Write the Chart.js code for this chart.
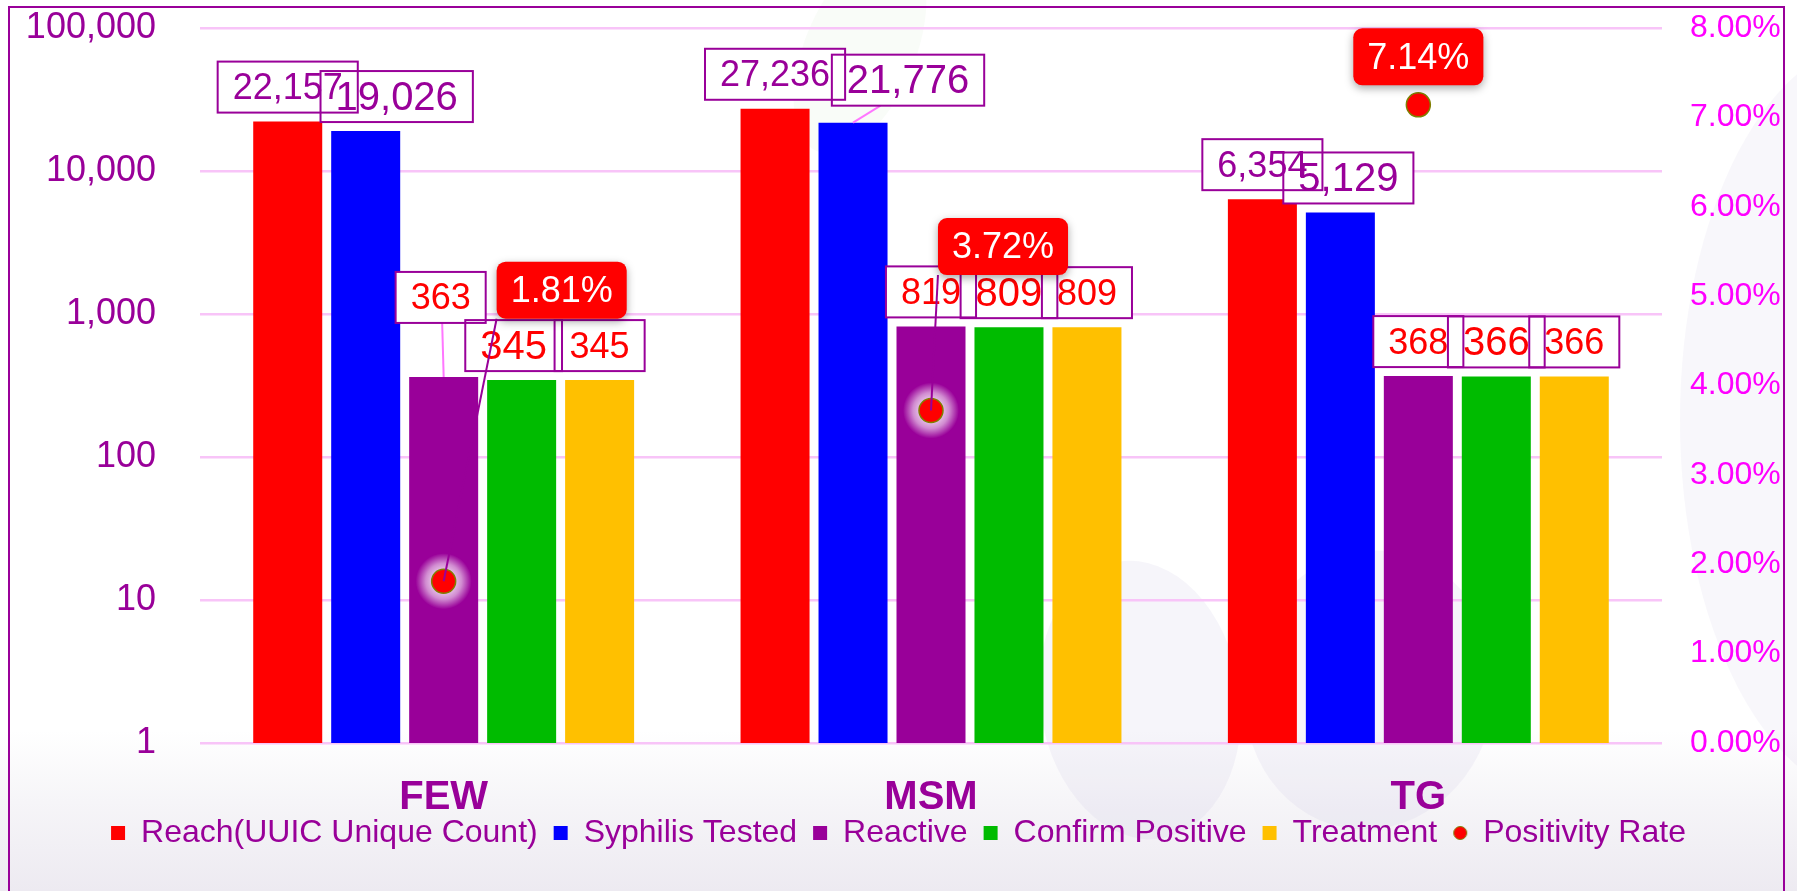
<!DOCTYPE html>
<html>
<head>
<meta charset="utf-8">
<script src="https://cdn.jsdelivr.net/npm/chart.js@4.4.1/dist/chart.umd.min.js"></script>
<style>
  html, body { margin: 0; padding: 0; background: #fff; }
</style>
</head>
<body>
<canvas id="myChart" width="1797" height="891"></canvas>
<script>
// chart values
var categories = ['FEW', 'MSM', 'TG'];
var reach = [22157, 27236, 6354];
var syphilisTested = [19026, 21776, 5129];
var reactive = [363, 819, 368];
var confirmPositive = [345, 809, 366];
var treatment = [345, 809, 366];
var positivityRate = [1.81, 3.72, 7.14];   // percent
var leftTicks = [1, 10, 100, 1000, 10000, 100000];
var rightTicks = [0, 1, 2, 3, 4, 5, 6, 7, 8];

var FONT = '"Liberation Sans", Arial, sans-serif';
var PURPLE = '#990099';

// hand-moved labels, like in the original sheet: [dx, extra lift, leader line]
var labelNudge = {
  '1-0': [31, 0], '1-1': [55, 8, true], '1-2': [8, 0],
  '2-0': [-3, 45, true], '3-0': [-8, 0]
};
var rateNudge = [[118, -291], [72, -164], [0, -48]];

Chart.defaults.font.family = FONT;

// small round marker for the legend entry of the rate series
var legendDot = document.createElement('canvas');
legendDot.width = 16; legendDot.height = 16;
(function() {
  var c = legendDot.getContext('2d');
  c.fillStyle = '#ff0000';
  c.strokeStyle = '#7f7f00';
  c.lineWidth = 1;
  c.beginPath();
  c.arc(8, 8, 6.5, 0, Math.PI * 2);
  c.fill();
  c.stroke();
})();

var backdrop = {
  id: 'backdrop',
  afterLayout: function(chart) {
    // pull the legend row up a little, closer to the category names
    chart.legend.top -= 22;
    chart.legend.bottom -= 22;
  },
  beforeDraw: function(chart) {
    var ctx = chart.ctx, w = chart.width, h = chart.height;
    ctx.save();
    var g = ctx.createLinearGradient(0, 0, 0, h);
    g.addColorStop(0, '#ffffff');
    g.addColorStop(0.82, '#ffffff');
    g.addColorStop(0.9, '#f6f5f8');
    g.addColorStop(1, '#edeaf1');
    ctx.fillStyle = g;
    ctx.fillRect(0, 0, w, h);

    // faint watermark shapes
    ctx.fillStyle = 'rgba(200, 195, 222, 0.16)';
    ctx.beginPath();
    ctx.ellipse(1140, 700, 100, 140, -0.15, 0, Math.PI * 2);
    ctx.fill();
    ctx.beginPath();
    ctx.ellipse(1370, 690, 125, 140, 0.2, 0, Math.PI * 2);
    ctx.fill();
    ctx.fillStyle = 'rgba(210, 205, 230, 0.16)';
    ctx.beginPath();
    ctx.ellipse(1880, 420, 200, 380, 0, 0, Math.PI * 2);
    ctx.fill();
    ctx.fillStyle = 'rgba(200, 230, 190, 0.10)';
    ctx.beginPath();
    ctx.ellipse(860, 50, 55, 110, 0.4, 0, Math.PI * 2);
    ctx.fill();

    // frame
    ctx.strokeStyle = PURPLE;
    ctx.lineWidth = 2;
    ctx.beginPath();
    ctx.moveTo(9, h + 5);
    ctx.lineTo(9, 7);
    ctx.lineTo(1784, 7);
    ctx.lineTo(1784, h + 5);
    ctx.stroke();
    ctx.restore();
  }
};

// soft white halo behind the rate markers
var glow = {
  id: 'glow',
  beforeDatasetDraw: function(chart, args) {
    if (chart.data.datasets[args.index].type !== 'line') return;
    var ctx = chart.ctx;
    ctx.save();
    args.meta.data.forEach(function(pt) {
      var rg = ctx.createRadialGradient(pt.x, pt.y, 8, pt.x, pt.y, 28);
      rg.addColorStop(0, 'rgba(255, 255, 255, 0.85)');
      rg.addColorStop(0.5, 'rgba(255, 255, 255, 0.55)');
      rg.addColorStop(1, 'rgba(255, 255, 255, 0)');
      ctx.fillStyle = rg;
      ctx.beginPath();
      ctx.arc(pt.x, pt.y, 28, 0, Math.PI * 2);
      ctx.fill();
    });
    ctx.restore();
  }
};

var valueLabels = {
  id: 'valueLabels',
  afterDatasetsDraw: function(chart) {
    var ctx = chart.ctx;
    var boxes = [];
    chart.data.datasets.forEach(function(ds, di) {
      if (ds.type === 'line') return;
      var meta = chart.getDatasetMeta(di);
      meta.data.forEach(function(bar, i) {
        var n = labelNudge[di + '-' + i] || [0, 0, false];
        var size = ds.labelSize;
        var text = ds.data[i].toLocaleString('en-US');
        ctx.font = size + 'px ' + FONT;
        var w = ctx.measureText(text).width + 30, h = 51;
        var cx = bar.x + n[0];
        var bottom = bar.y - 9 - n[1];
        boxes.push({ text: text, size: size, color: ds.labelColor, left: cx - w / 2, top: bottom - h,
          w: w, h: h, cx: cx, leader: n[2], bx: bar.x, by: bar.y });
      });
    });

    ctx.save();
    boxes.forEach(function(b) {
      if (!b.leader) return;
      ctx.strokeStyle = '#ff77ff';
      ctx.lineWidth = 2;
      ctx.beginPath();
      ctx.moveTo((b.bx + b.cx) / 2, b.top + b.h);
      ctx.lineTo(b.bx, b.by);
      ctx.stroke();
    });
    boxes.forEach(function(b) {
      ctx.fillStyle = '#ffffff';
      ctx.fillRect(b.left, b.top, b.w, b.h);
    });
    boxes.forEach(function(b) {
      ctx.strokeStyle = PURPLE;
      ctx.lineWidth = 2;
      ctx.strokeRect(b.left, b.top, b.w, b.h);
    });
    boxes.forEach(function(b) {
      ctx.fillStyle = b.color;
      ctx.font = b.size + 'px ' + FONT;
      ctx.textAlign = 'center';
      ctx.textBaseline = 'middle';
      ctx.fillText(b.text, b.cx, b.top + b.h / 2 + 2);
    });

    // positivity rate call-outs
    chart.data.datasets.forEach(function(ds, di) {
      if (ds.type !== 'line') return;
      var meta = chart.getDatasetMeta(di);
      meta.data.forEach(function(pt, i) {
        var text = ds.data[i].toFixed(2) + '%';
        ctx.font = '36px ' + FONT;
        var w = ctx.measureText(text).width + 28, h = 57;
        var cx = pt.x + rateNudge[i][0], cy = pt.y + rateNudge[i][1];
        var left = cx - w / 2, top = cy - h / 2;
        var nx = Math.min(Math.max(pt.x, left), left + w);
        var ny = Math.min(Math.max(pt.y, top), top + h);
        if (Math.hypot(nx - pt.x, ny - pt.y) > 40) {
          ctx.strokeStyle = PURPLE;
          ctx.lineWidth = 2;
          ctx.beginPath();
          ctx.moveTo(nx, ny);
          ctx.lineTo(pt.x, pt.y);
          ctx.stroke();
        }
        ctx.save();
        ctx.shadowColor = 'rgba(0, 0, 0, 0.35)';
        ctx.shadowBlur = 8;
        ctx.shadowOffsetY = 3;
        ctx.fillStyle = '#ff0000';
        ctx.beginPath();
        ctx.roundRect(left, top, w, h, 9);
        ctx.fill();
        ctx.restore();
        ctx.fillStyle = '#ffffff';
        ctx.textAlign = 'center';
        ctx.textBaseline = 'middle';
        ctx.fillText(text, cx, cy + 2);
      });
    });
    ctx.restore();
  }
};

function barSet(label, data, color, labelColor, labelSize) {
  return {
    label: label, data: data, backgroundColor: color, borderWidth: 0,
    pointStyle: 'rect', yAxisID: 'y', order: 1,
    labelColor: labelColor, labelSize: labelSize,
    barPercentage: 0.885, categoryPercentage: 0.8
  };
}

var myChart = new Chart(document.getElementById('myChart').getContext('2d'), {
  type: 'bar',
  data: {
    labels: categories,
    datasets: [
      barSet('Reach(UUIC Unique Count)', reach, '#ff0000', PURPLE, 36),
      barSet('Syphilis Tested', syphilisTested, '#0000ff', PURPLE, 40),
      barSet('Reactive', reactive, '#990099', '#ff0000', 36),
      barSet('Confirm Positive', confirmPositive, '#00bb00', '#ff0000', 40),
      barSet('Treatment', treatment, '#ffc000', '#ff0000', 36),
      {
        type: 'line', label: 'Positivity Rate', data: positivityRate, yAxisID: 'y1',
        showLine: false, order: 0,
        backgroundColor: '#ff0000', borderColor: '#7f7f00', borderWidth: 1.5,
        pointStyle: 'circle', pointRadius: 12, pointHoverRadius: 12,
        pointBackgroundColor: '#ff0000', pointBorderColor: '#7f7f00', pointBorderWidth: 1.5
      }
    ]
  },
  options: {
    responsive: false,
    animation: false,
    events: [],
    layout: { padding: { left: 0, right: 0, top: 28, bottom: 10 } },
    plugins: {
      tooltip: { enabled: false },
      legend: {
        position: 'bottom',
        labels: {
          usePointStyle: true, boxWidth: 14, boxHeight: 14, padding: 16,
          color: PURPLE, font: { size: 32 },
          sort: function(a, b) { return a.datasetIndex - b.datasetIndex; },
          generateLabels: function(chart) {
            var items = Chart.defaults.plugins.legend.labels.generateLabels(chart);
            items.forEach(function(it) {
              if (chart.data.datasets[it.datasetIndex].type === 'line') it.pointStyle = legendDot;
            });
            return items;
          }
        }
      }
    },
    scales: {
      x: {
        grid: { display: false, drawTicks: false },
        border: { display: false },
        afterFit: function(s) { s.height = 80; },
        ticks: { color: PURPLE, font: { size: 40, weight: 'bold' }, padding: 31 }
      },
      y: {
        type: 'logarithmic', position: 'left', min: 1, max: 100000,
        afterBuildTicks: function(s) { s.ticks = leftTicks.map(function(v) { return { value: v }; }); },
        afterFit: function(s) { s.width = 200; s.paddingTop = 20; s.paddingBottom = 20; },
        grid: { color: '#f8c4f8', lineWidth: 2.5, drawTicks: false },
        border: { display: false },
        ticks: {
          color: PURPLE, font: { size: 36 }, padding: 44,
          callback: function(v) { return Number(v).toLocaleString('en-US'); }
        }
      },
      y1: {
        type: 'linear', position: 'right', min: 0, max: 8,
        afterBuildTicks: function(s) { s.ticks = rightTicks.map(function(v) { return { value: v }; }); },
        afterFit: function(s) { s.width = 135; s.paddingTop = 18; s.paddingBottom = 18; },
        grid: { display: false, drawTicks: false },
        border: { display: false },
        ticks: {
          color: '#ff00ff', font: { size: 32 }, padding: 28,
          callback: function(v) { return Number(v).toFixed(2) + '%'; }
        }
      }
    }
  },
  plugins: [backdrop, glow, valueLabels]
});
</script>
</body>
</html>
